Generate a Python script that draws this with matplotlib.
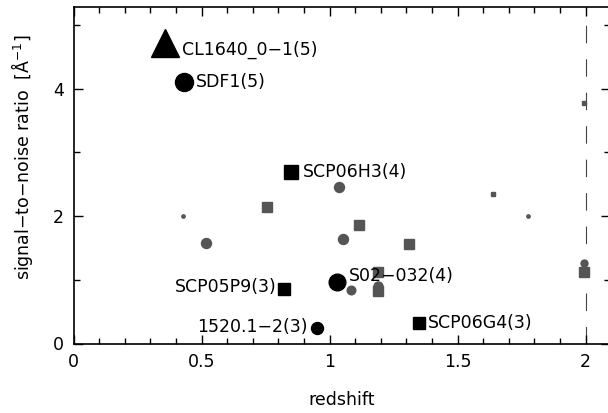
import matplotlib
matplotlib.use("Agg")
import matplotlib.pyplot as plt
from matplotlib.ticker import MultipleLocator, FixedLocator

plt.rcParams['font.family'] = ['DejaVu Sans']
plt.rcParams['lines.scale_dashes'] = False

# Labelled (black) clusters
lab_names = ["CL1640_0\u22121(5)", "SDF1(5)", "SCP06H3(4)", "S02\u2212032(4)",
             "SCP06G4(3)", "SCP05P9(3)", "1520.1\u22122(3)"]
lab_z = [0.357, 0.432, 0.850, 1.029, 1.350, 0.822, 0.951]
lab_sn = [4.71, 4.10, 2.69, 0.965, 0.32, 0.855, 0.243]
lab_marker = ['^', 'o', 's', 'o', 's', 's', 'o']
lab_size = [19.5, 13.0, 10.0, 12.0, 8.6, 8.6, 8.6]

# Unlabelled (gray) points
gray_z = [1.037, 0.428, 0.756, 1.116, 1.053, 0.518, 1.311, 1.639, 1.775,
          1.994, 1.994, 1.994, 1.084, 1.190, 1.190, 1.190]
gray_sn = [2.46, 2.00, 2.14, 1.86, 1.64, 1.58, 1.56, 2.34, 2.00,
           3.77, 1.26, 1.12, 0.84, 1.12, 0.90, 0.82]
gray_marker = ['o', 'o', 's', 's', 'o', 'o', 's', 's', 'o',
               's', 'o', 's', 'o', 's', 'o', 's']
gray_size = [7.2, 2.4, 6.5, 6.5, 7.2, 7.2, 6.5, 2.2, 2.4,
             2.2, 5.0, 6.5, 6.2, 6.5, 6.5, 6.5]

z_limit = 2.0

# label offsets (points) and alignment
lab_offset = [(12, -4.5), (8.5, 0), (8.5, 0), (8.5, 4.5), (6.5, 0), (-5, 1.5), (-6.5, 1)]
lab_ha = ['left', 'left', 'left', 'left', 'left', 'right', 'right']

fig = plt.figure(figsize=(6.08, 4.13), dpi=100)
ax = fig.add_axes([73.5 / 608, (413 - 343.5) / 413, (609.5 - 73.5) / 608, (343.5 - 7) / 413])

gray = '#555555'
ax.axvline(z_limit, color='#444444', lw=0.8, dashes=(12.6, 11.5), zorder=1)

for z, s, m, ms in zip(gray_z, gray_sn, gray_marker, gray_size):
    ax.plot([z], [s], marker=m, ms=ms, color=gray, mec=gray, ls='none', zorder=2)

for name, z, s, m, ms, off, ha in zip(lab_names, lab_z, lab_sn, lab_marker, lab_size,
                                        lab_offset, lab_ha):
    ax.plot([z], [s], marker=m, ms=ms, color='black', ls='none', zorder=3)
    ax.annotate(name, (z, s), xytext=off, textcoords='offset points',
                ha=ha, va='center', fontsize=12.5, color='black', zorder=4)

ax.set_xlim(0, (609.5 - 73.5) / 256)
ax.set_ylim(0, 5.28)

ax.xaxis.set_major_locator(FixedLocator([0, 0.5, 1, 1.5, 2]))
ax.set_xticklabels(["0", "0.5", "1", "1.5", "2"])
ax.xaxis.set_minor_locator(MultipleLocator(0.1))
ax.yaxis.set_major_locator(FixedLocator([0, 2, 4]))
ax.set_yticklabels(["0", "2", "4"])
ax.yaxis.set_minor_locator(MultipleLocator(1))

ax.tick_params(which='both', direction='in', top=True, right=True, width=1.0,
               labelsize=12.5, colors='black')
ax.tick_params(which='major', length=6.5, pad=7)
ax.tick_params(which='minor', length=4.3)
for sp in ax.spines.values():
    sp.set_linewidth(1.2)

ax.set_xlabel("redshift", fontsize=12.5, labelpad=14)
ax.set_ylabel("signal\u2212to\u2212noise ratio  [\u00c5$^{-1}$]", fontsize=12.5)
ax.yaxis.set_label_coords(-0.072, 0.554)

fig.savefig("out.png", dpi=100)
